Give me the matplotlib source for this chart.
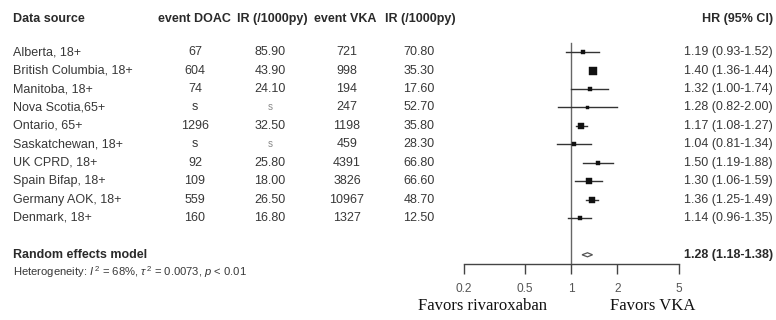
import matplotlib
matplotlib.use("Agg")
import matplotlib.pyplot as plt
from matplotlib.transforms import blended_transform_factory
from matplotlib.patches import Polygon

plt.rcParams['font.family'] = ['Liberation Sans', 'DejaVu Sans']
plt.rcParams['mathtext.fontset'] = 'custom'
plt.rcParams['mathtext.rm'] = 'Liberation Sans'
plt.rcParams['mathtext.it'] = 'Liberation Sans:italic'
plt.rcParams['mathtext.bf'] = 'Liberation Sans:bold'

# ---- data ----
sources = ["Alberta, 18+", "British Columbia, 18+", "Manitoba, 18+", "Nova Scotia,65+",
           "Ontario, 65+", "Saskatchewan, 18+", "UK CPRD, 18+", "Spain Bifap, 18+",
           "Germany AOK, 18+", "Denmark, 18+"]
event_doac = ["67", "604", "74", "s", "1296", "s", "92", "109", "559", "160"]
ir_doac = ["85.90", "43.90", "24.10", "s", "32.50", "s", "25.80", "18.00", "26.50", "16.80"]
event_vka = ["721", "998", "194", "247", "1198", "459", "4391", "3826", "10967", "1327"]
ir_vka = ["70.80", "35.30", "17.60", "52.70", "35.80", "28.30", "66.80", "66.60", "48.70", "12.50"]
hr = [1.19, 1.40, 1.32, 1.28, 1.17, 1.04, 1.50, 1.30, 1.36, 1.14]
lo = [0.93, 1.36, 1.00, 0.82, 1.08, 0.81, 1.19, 1.06, 1.25, 0.96]
hi = [1.52, 1.44, 1.74, 2.00, 1.27, 1.34, 1.88, 1.59, 1.49, 1.35]
box_px = [5, 8, 4, 3, 6.5, 4, 5, 5.5, 6.5, 5]   # relative study weights (box side)
re_hr, re_lo, re_hi = 1.28, 1.18, 1.38
xticks = [0.2, 0.5, 1, 2, 5]
xtick_labels = ["0.2", "0.5", "1", "2", "5"]

W, H = 776, 320
fig = plt.figure(figsize=(W / 100, H / 100), dpi=100)
fig.patch.set_facecolor("white")

# forest axes: x 0.2..5 -> px 463.5..678.5 ; y rows -0.5..11.5 -> px 43..264
x0, x1 = 463.5, 678.5
ytop, ybot = 43, 264
ax = fig.add_axes([x0 / W, (H - ybot) / H, (x1 - x0) / W, (ybot - ytop) / H])
ax.set_xscale("log")
ax.set_xlim(0.2, 5)
ax.set_ylim(11.5, -0.5)
ax.patch.set_alpha(0)
for s in ["top", "right", "left"]:
    ax.spines[s].set_visible(False)
ax.spines["bottom"].set_color("#444444")
ax.spines["bottom"].set_linewidth(1.0)
ax.set_yticks([])
ax.set_xticks(xticks)
ax.set_xticklabels(xtick_labels)
ax.xaxis.set_minor_locator(matplotlib.ticker.NullLocator())
ax.tick_params(axis="x", direction="out", length=7, width=1.0, color="#444444",
               labelsize=8.6, labelcolor="#555555", pad=7)

txtc = "#383838"
ax.plot([1, 1], [-0.5, 11.5], color="#666666", lw=1.0, zorder=1, clip_on=False)

rows = list(range(len(sources)))
for i in rows:
    ax.plot([lo[i], hi[i]], [i, i], color="#333333", lw=1.0, zorder=2)
    ax.plot([hr[i]], [i], marker="s", ms=box_px[i] * 0.72, color="#111111",
            mec="#111111", mew=0.3, zorder=3, linestyle="none")

# diamond
re_y = 11
dh = 0.11
diamond = Polygon([[re_lo, re_y], [re_hr, re_y - dh], [re_hi, re_y], [re_hr, re_y + dh]],
                  closed=True, facecolor="white", edgecolor="#555555", lw=0.9, zorder=3)
ax.add_patch(diamond)

def px(x):
    return x / 100.0
trans = blended_transform_factory(fig.dpi_scale_trans, ax.transData)

fs = 9.0
hy = -1.8
kw = dict(transform=trans, clip_on=False, va="center", color=txtc)
hkw = dict(transform=trans, clip_on=False, va="center", color="#2a2a2a")
ax.text(px(13), hy, "Data source", ha="left", fontsize=fs, fontweight="bold", **hkw)
ax.text(px(194), hy, "event DOAC", ha="center", fontsize=fs, fontweight="bold", **hkw)
ax.text(px(272), hy, "IR (/1000py)", ha="center", fontsize=fs, fontweight="bold", **hkw)
ax.text(px(345), hy, "event VKA", ha="center", fontsize=fs, fontweight="bold", **hkw)
ax.text(px(420), hy, "IR (/1000py)", ha="center", fontsize=fs, fontweight="bold", **hkw)
ax.text(px(773), hy, "HR (95% CI)", ha="right", fontsize=fs, fontweight="bold", **hkw)

for i in rows:
    ax.text(px(13), i, sources[i], ha="left", fontsize=fs, **kw)
    ax.text(px(195), i, event_doac[i], ha="center", fontsize=fs, **kw)
    if ir_doac[i] == "s":
        ax.text(px(270), i, ir_doac[i], ha="center", fontsize=fs - 2,
                transform=trans, clip_on=False, va="center", color="#888888")
    else:
        ax.text(px(270), i, ir_doac[i], ha="center", fontsize=fs, **kw)
    ax.text(px(347), i, event_vka[i], ha="center", fontsize=fs, **kw)
    ax.text(px(419), i, ir_vka[i], ha="center", fontsize=fs, **kw)
    ax.text(px(773), i, f"{hr[i]:.2f} ({lo[i]:.2f}-{hi[i]:.2f})", ha="right", fontsize=fs, **kw)

ax.text(px(13), re_y, "Random effects model", ha="left", fontsize=fs, fontweight="bold", **hkw)
ax.text(px(773), re_y, f"{re_hr:.2f} ({re_lo:.2f}-{re_hi:.2f})", ha="right", fontsize=fs,
        fontweight="bold", **hkw)
ax.text(px(13), 11.95, r"Heterogeneity: $I^{\,2}$ = 68%, $\tau^{\,2}$ = 0.0073, $p$ < 0.01",
        ha="left", fontsize=8.1, **kw)

serif = ["Liberation Serif", "DejaVu Serif"]
ax.text(px(482.5), 13.8, "Favors rivaroxaban", ha="center", fontsize=12, family=serif,
        transform=trans, clip_on=False, va="center", color="#111111")
ax.text(px(652.5), 13.8, "Favors VKA", ha="center", fontsize=12, family=serif,
        transform=trans, clip_on=False, va="center", color="#111111")

fig.savefig("out.png", dpi=100, facecolor="white")
